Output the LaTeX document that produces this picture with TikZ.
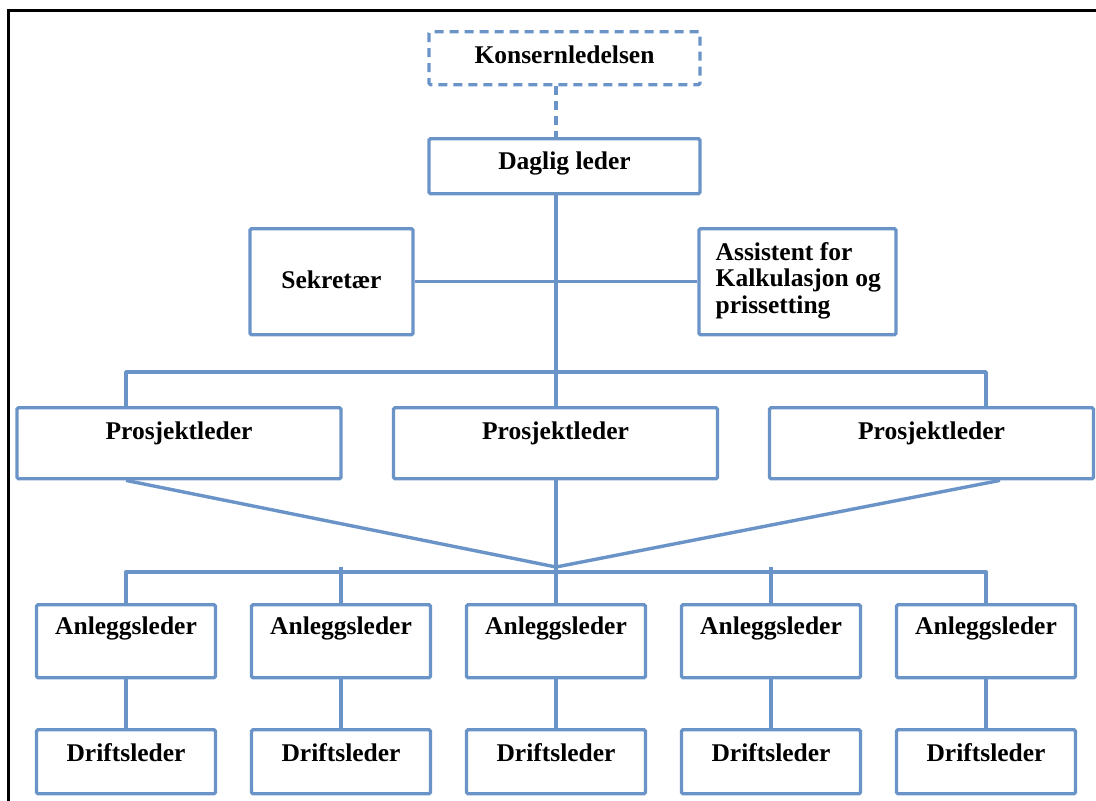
\documentclass[tikz,border=0pt]{standalone}
\usepackage{fontspec}
\setmainfont{Liberation Serif}
\definecolor{orgblue}{RGB}{106,148,200}
\begin{document}
\begin{tikzpicture}[x=1pt,y=-1pt,
  lbl/.style={font=\bfseries\fontsize{25.5}{26.5}\selectfont, text=black},
  box/.style={draw=orgblue, line width=3.4pt, rounded corners=1.5pt, inner sep=0pt,
              fill=white, lbl, anchor=north},
  hd/.style 2 args={text height=#1pt, text depth=#2pt},
  conn/.style={draw=orgblue, line width=3.4pt, line join=round},
  dashconn/.style={conn, dash pattern=on 9pt off 6pt}]

  % page and frame
  \useasboundingbox[fill=white] (0,0) rectangle (1096,801);
  \draw[black, line width=3pt] (8,801) -- (8,10) -- (1096,10);

  % top management
  \node[box, hd={32}{21}, minimum width=271pt, dashconn] (kons) at (564.5,30) {Konsernledelsen};
  \node[box, hd={31}{24}, minimum width=271pt] (daglig) at (564.5,137) {Daglig leder};

  % staff functions
  \node[box, hd={60}{46}, minimum width=163pt] (sek) at (331.5,227) {Sekretær};
  \node[box, minimum width=197pt, minimum height=106pt] (asst) at (797.5,227) {};
  \node[lbl, align=left, inner sep=0pt, anchor=north west] (asstxt) at (715.5,242)
       {Assistent for\\Kalkulasjon og\\prissetting};

  % project managers
  \foreach \i/\x in {1/179, 2/555.5, 3/931.5}
    \node[box, hd={32}{39}, minimum width=324pt] (p\i) at (\x,406) {Prosjektleder};

  % site managers and operations managers
  \foreach \i/\x in {1/126, 2/341, 3/556, 4/771, 5/986} {
    \node[box, hd={30}{43}, minimum width=179pt] (a\i) at (\x,603) {Anleggsleder};
    \node[box, hd={32}{32}, minimum width=179pt] (d\i) at (\x,728) {Driftsleder};
  }

  % helper coordinates for the bus lines
  \coordinate (hub) at (556,567);
  \coordinate (topbar) at (0,372);
  \coordinate (botbar) at (0,572);
  \coordinate (rdiag) at (1000,0);

  % connectors
  \draw[dashconn] (kons.south -| hub) -- (daglig.north -| hub);
  \draw[conn] (daglig.south -| hub) -- (p2.north -| hub);
  \draw[conn] (sek.east) -- (asst.west);
  \draw[conn] (p1.north -| a1) -- (a1 |- topbar) -- (a5 |- topbar) -- (p3.north -| a5);

  \draw[conn] (p1.south -| a1) -- (hub);
  \draw[conn] (p2.south -| hub) -- (hub);
  \draw[conn] (p3.south -| rdiag) -- (hub);

  \draw[conn] (a1.north) -- (a1 |- botbar) -- (a5 |- botbar) -- (a5.north);
  \draw[conn] (hub) -- (a3.north);
  \draw[conn] (a2 |- hub) -- (a2.north);
  \draw[conn] (a4 |- hub) -- (a4.north);

  \foreach \i in {1,...,5}
    \draw[conn] (a\i.south) -- (d\i.north);
\end{tikzpicture}
\end{document}
